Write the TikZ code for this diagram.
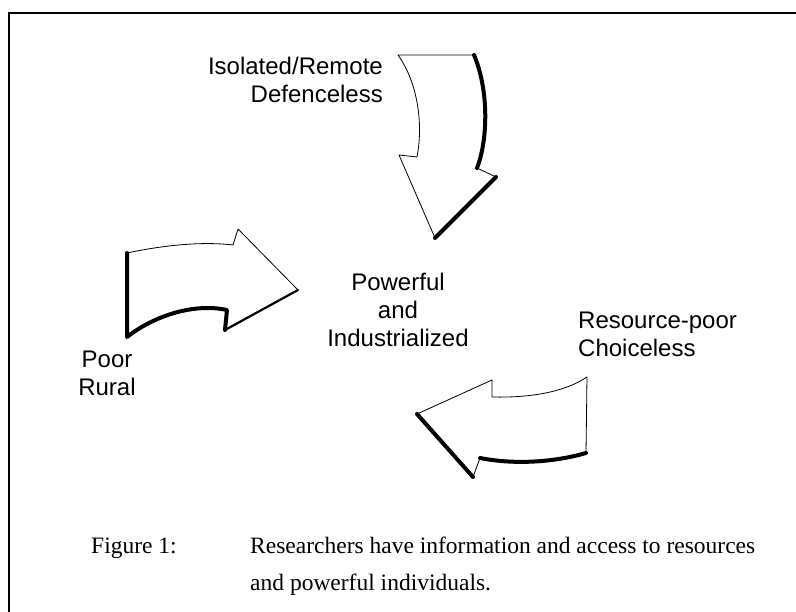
\documentclass[tikz,border=0pt]{standalone}
\usepackage{fontspec}
\setmainfont{Liberation Serif}
\newfontfamily\labelfont{Liberation Sans}
\begin{document}
\begin{tikzpicture}[x=1pt,y=-1pt,
  thinedge/.style={line width=0.8pt, line join=round},
  thickedge/.style={line width=4pt, line cap=round, line join=round},
  medge/.style={line width=2.2pt, line cap=round, line join=round},
  framestyle/.style={line width=1.3pt},
  lbl/.style={font=\labelfont\fontsize{24}{28}\selectfont, inner sep=0pt},
  captext/.style={font=\fontsize{23.5}{28}\selectfont, inner sep=0pt, anchor=base west}]
\useasboundingbox (0,0) rectangle (796,612);
% frame
\coordinate (fTL) at (9,13);
\coordinate (fTR) at (796,13);
\coordinate (fBL) at (9,612);
\draw[framestyle] (fBL) -- (fTL) -- (fTR);

% top arrow
\coordinate (a1) at (398,55);
\coordinate (a2) at (474,55);
\coordinate (a3) at (477,168);
\coordinate (a4) at (496,177);
\coordinate (a5) at (435,238);
\coordinate (a6) at (399,155);
\coordinate (a7) at (417,157);
\draw[thinedge, fill=white] (a1) -- (a2) .. controls (489,90) and (488,140) .. (a3) -- (a4) -- (a5) -- (a6) -- (a7) .. controls (424,120) and (416,80) .. (a1) -- cycle;
\draw[thickedge] (a2) .. controls (489,90) and (488,140) .. (a3);
\draw[thickedge] (a4) -- (a5);

% left arrow
\coordinate (b1) at (127,253);
\coordinate (b2) at (233,245);
\coordinate (b3) at (238,229);
\coordinate (b4) at (298,290);
\coordinate (b5) at (225,330);
\coordinate (b6) at (227,310);
\coordinate (b7) at (127,337);
\draw[thinedge, fill=white] (b1) .. controls (160,246) and (200,241) .. (b2) -- (b3) -- (b4) -- (b5) -- (b6) .. controls (195,303) and (155,315) .. (b7) -- cycle;
\draw[medge] (b4) -- (b5);
\draw[thickedge] (b5) -- (b6) .. controls (195,303) and (155,315) .. (b7) -- (b1);

% bottom arrow
\coordinate (c1) at (587,377);
\coordinate (c2) at (492,397);
\coordinate (c3) at (492,380);
\coordinate (c4) at (417,414);
\coordinate (c5) at (473,477);
\coordinate (c6) at (480,458);
\coordinate (c7) at (586,453);
\draw[thinedge, fill=white] (c1) .. controls (565,392) and (530,398) .. (c2) -- (c3) -- (c4) -- (c5) -- (c6) .. controls (515,465) and (555,462) .. (c7) -- cycle;
\draw[thickedge] (c4) -- (c5);
\draw[thickedge] (c6) .. controls (515,465) and (555,462) .. (c7);

% labels
\node[lbl, align=right, anchor=east] (ltop) at (383,80) {Isolated/Remote\\Defenceless};
\node[lbl, align=center] (lmid) at (398,310) {Powerful\\and\\Industrialized};
\node[lbl, align=center] (lleft) at (107,373) {Poor\\Rural};
\node[lbl, align=left, anchor=west] (lright) at (578,334) {Resource-poor\\Choiceless};

% caption
\node[captext] (fig) at (91,553) {Figure 1:};
\node[captext] (cap1) at (250,553) {Researchers have information and access to resources};
\node[captext] (cap2) at (250,590) {and powerful individuals.};
\end{tikzpicture}
\end{document}
